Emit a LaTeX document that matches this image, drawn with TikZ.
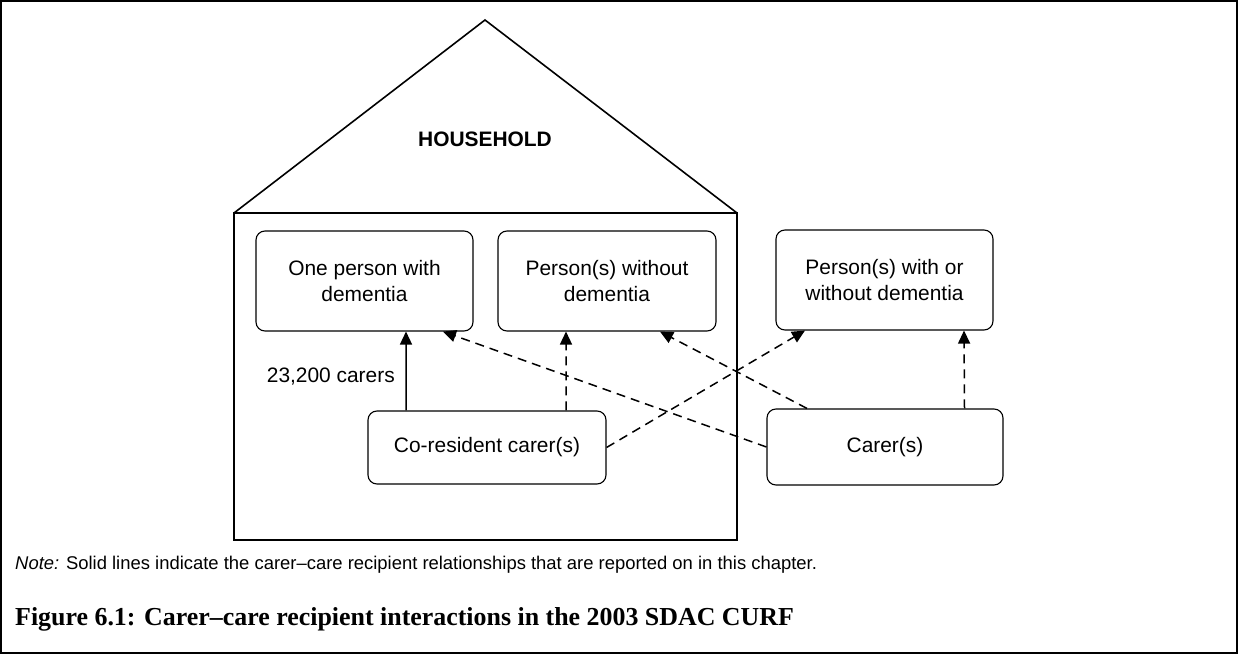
\documentclass[tikz,border=0pt]{standalone}
\usepackage{fontspec}
\setmainfont{Liberation Sans}
\newfontfamily\capfont{Liberation Serif}
\usetikzlibrary{arrows.meta,calc}
\begin{document}
\begin{tikzpicture}[x=1bp,y=-1bp,
  box/.style={draw, rounded corners=9bp, line width=1.1bp, align=center,
    font=\fontsize{21}{26}\selectfont, inner sep=0pt},
  arr/.style={-{Triangle[width=12bp,length=13bp]}, line width=1.5bp},
  dsh/.style={arr, dash pattern=on 9bp off 6bp},
  house/.style={line width=1.6bp}]
\useasboundingbox (0,0) rectangle (1238,654);
\draw[line width=2bp] (1,1) rectangle (1237,653);
% house
\draw[house] (234,213) -- (485,20) -- (737,213);
\draw[house] (234,213) rectangle (737,540);
\node[font=\bfseries\fontsize{21}{25}\selectfont] (hh) at (485,139) {HOUSEHOLD};
% boxes
\node[box, minimum width=217bp, minimum height=100bp] (one) at (364.5,281) {One person with\\dementia};
\node[box, minimum width=218bp, minimum height=100bp] (without) at (607,281) {Person(s) without\\dementia};
\node[box, minimum width=217bp, minimum height=100bp] (withor) at (884.5,280) {Person(s) with or\\without dementia};
\node[box, minimum width=238bp, minimum height=73bp] (cores) at (487,447.5) {Co-resident carer(s)};
\node[box, minimum width=236bp, minimum height=76bp] (carer) at (885,447) {Carer(s)};
\node[anchor=east, inner sep=0pt, font=\fontsize{21}{26}\selectfont] (lbl) at (395,377) {23,200 carers};
% connectors
\draw[arr] ([xshift=-81bp]cores.north) -- ([xshift=41.5bp]one.south);
\draw[dsh] ([xshift=79bp]cores.north) -- ([xshift=-41bp]without.south);
\draw[dsh] ([xshift=-78bp]carer.north) -- ([xshift=53bp]without.south);
\draw[dsh] (carer.west) -- ([xshift=78.5bp]one.south);
\draw[dsh] (cores.east) -- ([xshift=-79.5bp]withor.south);
\draw[dsh] ([xshift=79.5bp]carer.north) -- ([xshift=79.5bp]withor.south);
% note and caption
\node[anchor=base west, inner sep=0pt, font=\fontsize{18.5}{22}\selectfont] (note) at (15,569)
  {\textit{Note:} Solid lines indicate the carer–care recipient relationships that are reported on in this chapter.};
\node[anchor=base west, inner sep=0pt, font=\capfont\bfseries\fontsize{26}{30}\selectfont] (cap) at (15,625)
  {Figure 6.1: Carer–care recipient interactions in the 2003 SDAC CURF};
\end{tikzpicture}
\end{document}
